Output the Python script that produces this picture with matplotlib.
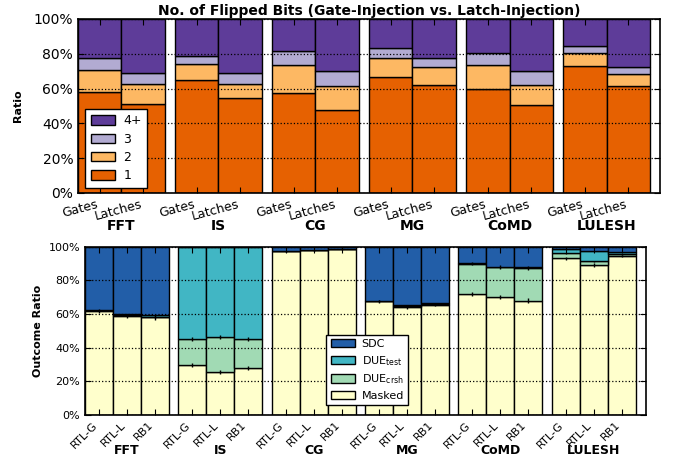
import numpy as np
import matplotlib.pyplot as plt
from matplotlib.patches import Patch
from matplotlib.ticker import PercentFormatter
from matplotlib.transforms import blended_transform_factory

apps = ["FFT", "IS", "CG", "MG", "CoMD", "LULESH"]
inj_labels = ["Gates", "Latches"]
model_labels = ["RTL-G", "RTL-L", "RB1"]

# number of flipped bits (%) - order per app: Gates, Latches
bits_1 = [57.9, 51.1, 65.1, 54.6, 57.5, 47.9, 66.9, 62.1, 59.8, 50.6, 73.0, 61.3]
bits_2 = [12.8, 11.4, 8.8, 8.0, 16.1, 13.4, 10.7, 10.1, 13.8, 11.7, 7.5, 7.1]
bits_3 = [7.1, 6.3, 5.0, 6.4, 8.0, 8.6, 5.5, 5.2, 6.9, 7.8, 4.0, 4.0]
bits_4 = [22.2, 31.2, 21.1, 31.0, 18.4, 30.1, 16.9, 22.6, 19.5, 29.9, 15.5, 27.6]

# outcome ratio (%) - order per app: RTL-G, RTL-L, RB1
masked = [61.8, 59.0, 58.0, 29.6, 25.4, 27.8, 97.2, 97.8, 98.6,
          67.6, 64.0, 65.6, 72.0, 70.4, 68.0, 93.0, 89.0, 94.4]
due_crsh = [0.3, 0.3, 0.3, 15.5, 20.9, 17.3, 0.0, 0.0, 0.0,
            0.2, 0.5, 0.2, 17.9, 17.5, 19.5, 3.0, 2.4, 1.0]
due_test = [0.3, 0.5, 1.3, 54.9, 53.7, 54.9, 0.0, 0.0, 0.0,
            0.2, 0.7, 1.0, 0.3, 0.3, 0.3, 2.4, 6.0, 1.4]
sdc = [37.6, 40.2, 40.4, 0.0, 0.0, 0.0, 2.8, 2.2, 1.4,
       32.0, 34.8, 33.2, 9.8, 11.8, 12.2, 1.6, 2.6, 3.2]
masked_err = [1.2, 1.2, 1.4, 1.2, 1.2, 1.2, 0.4, 0.4, 0.4,
              0.8, 1.0, 1.0, 1.2, 1.2, 1.4, 0.8, 1.2, 0.6]
crsh_err = [0.4, 0.4, 0.4, 1.0, 1.0, 1.0, 0.2, 0.2, 0.2,
            0.4, 0.4, 0.4, 1.0, 1.0, 1.2, 0.4, 0.4, 0.4]

bits_colors = ["#e66101", "#fdb863", "#b2abd2", "#5e3c99"]
out_colors = ["#ffffcc", "#a1dab4", "#41b6c4", "#225ea8"]


def bar_positions(n_per_group, gap):
    step = n_per_group + gap
    x = [g * step + k + 0.5 for g in range(len(apps)) for k in range(n_per_group)]
    return np.array(x), step


def style_axes(ax, ylabel, fs):
    ax.set_ylim(0, 100)
    ax.set_yticks(np.arange(0, 101, 20))
    ax.yaxis.set_major_formatter(PercentFormatter(decimals=0))
    ax.set_ylabel(ylabel, fontweight="bold", fontsize=8)
    ax.tick_params(direction="in", top=True, right=True, labelsize=fs, length=4)
    ax.yaxis.grid(True, linestyle=":", color="black", linewidth=0.9)
    ax.set_axisbelow(False)
    for sp in ax.spines.values():
        sp.set_linewidth(1.2)


fig = plt.figure(figsize=(6.77, 4.62), dpi=100)

# ── top: flipped bits ─────────────────────────────────────────────
ax1 = fig.add_axes([0.1152, 0.5823, 0.8597, 0.3766])
x1, step1 = bar_positions(2, 0.23)
bottom = np.zeros(len(x1))
for vals, col in zip([bits_1, bits_2, bits_3, bits_4], bits_colors):
    ax1.bar(x1, vals, width=1.0, bottom=bottom, color=col,
            edgecolor="black", linewidth=1.0)
    bottom += np.array(vals)
ax1.set_xlim(0, 5 * step1 + 2 + 0.23)
style_axes(ax1, "Ratio", 10)
ax1.yaxis.labelpad = 8
ax1.set_xticks(x1)
ax1.set_xticklabels(inj_labels * len(apps), rotation=15, ha="right", fontsize=9)
ax1.set_title("No. of Flipped Bits (Gate-Injection vs. Latch-Injection)",
              fontweight="bold", fontsize=10, pad=3)
tr1 = blended_transform_factory(ax1.transData, ax1.transAxes)
for g, app in enumerate(apps):
    ax1.text(g * step1 + 1.0, -0.19, app, transform=tr1, ha="center",
             va="center", fontweight="bold", fontsize=10)
leg1 = ax1.legend(handles=[Patch(facecolor=c, edgecolor="black", label=l)
                           for c, l in zip(bits_colors[::-1], ["4+", "3", "2", "1"])],
                  loc="lower left", bbox_to_anchor=(0.006, 0.008), fontsize=9,
                  fancybox=False, edgecolor="black", framealpha=1,
                  handlelength=1.9, handleheight=0.8, handletextpad=0.7,
                  labelspacing=0.42, borderpad=0.45, borderaxespad=0.3)
leg1.get_frame().set_linewidth(1.0)

# ── bottom: outcome ratio ─────────────────────────────────────────
ax2 = fig.add_axes([0.1256, 0.1017, 0.8282, 0.3643])
x2, step2 = bar_positions(3, 0.33)
bottom = np.zeros(len(x2))
for vals, col in zip([masked, due_crsh, due_test, sdc], out_colors):
    ax2.bar(x2, vals, width=1.0, bottom=bottom, color=col,
            edgecolor="black", linewidth=1.0)
    bottom += np.array(vals)
ax2.errorbar(x2, masked, yerr=masked_err, fmt="none", ecolor="black",
             elinewidth=1.0, capsize=0)
ax2.errorbar(x2, np.array(masked) + np.array(due_crsh), yerr=crsh_err,
             fmt="none", ecolor="black", elinewidth=1.0, capsize=0)
ax2.set_xlim(0, 5 * step2 + 3 + 0.36)
style_axes(ax2, "Outcome Ratio", 8)
ax2.set_xticks(x2)
ax2.set_xticklabels(model_labels * len(apps), rotation=45, ha="right",
                    fontsize=8)
tr2 = blended_transform_factory(ax2.transData, ax2.transAxes)
for g, app in enumerate(apps):
    ax2.text(g * step2 + 1.5, -0.21, app, transform=tr2, ha="center",
             va="center", fontweight="bold", fontsize=9)
leg2 = ax2.legend(handles=[Patch(facecolor=c, edgecolor="black", label=l)
                           for c, l in zip(out_colors[::-1],
                                           ["SDC", r"DUE$_{\mathrm{test}}$",
                                            r"DUE$_{\mathrm{crsh}}$", "Masked"])],
                  loc="lower left", bbox_to_anchor=(0.42, 0.025), fontsize=8,
                  fancybox=False, edgecolor="black", framealpha=1,
                  handlelength=2.2, handleheight=0.8, handletextpad=0.6,
                  labelspacing=0.42, borderpad=0.4)
leg2.get_frame().set_linewidth(1.0)

fig.savefig("out.png", dpi=100)
